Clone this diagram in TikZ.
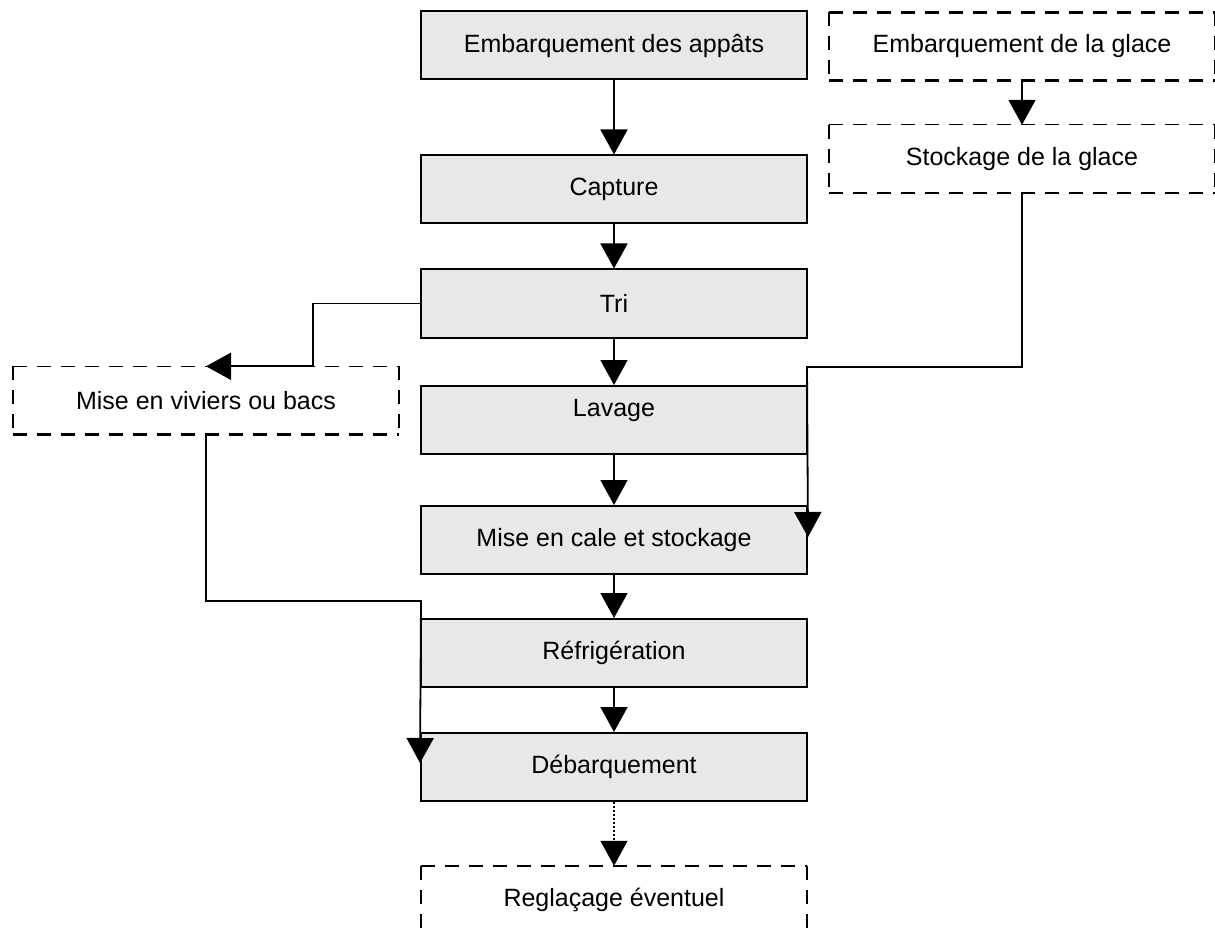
\documentclass[tikz,border=0pt]{standalone}
\usepackage{fontspec}
\setmainfont{Liberation Sans}
\usetikzlibrary{arrows.meta}
\definecolor{boxgrey}{RGB}{232,232,232}
% dashed frame of an optional step: top edge style, then the other three edges
\newcommand{\dashframe}[2]{%
  \draw[#2] (#1.north west) -- (#1.north east);
  \draw[thickdash] (#1.north west) -- (#1.south west);
  \draw[thickdash] (#1.south west) -- (#1.south east);
  \draw[thickdash] (#1.north east) -- (#1.south east);}
\begin{document}
\begin{tikzpicture}[x=1pt,y=-1pt,
  txt/.style={font=\fontsize{25}{30}\selectfont},
  stepbox/.style={txt, draw, line width=2pt, fill=boxgrey,
    minimum width=386pt, minimum height=68pt, inner sep=0pt},
  optbox/.style={txt, minimum width=386pt, minimum height=68pt, inner sep=0pt},
  thickdash/.style={line width=2.5pt, dash pattern=on 14pt off 10pt},
  thindash/.style={line width=1.2pt, dash pattern=on 14pt off 10pt},
  flow/.style={line width=1.8pt, -{Triangle[length=25pt,width=27pt]}},
  dotflow/.style={flow, line width=1.5pt, dash pattern=on 2pt off 2pt},
]
\useasboundingbox (0,0) rectangle (1215,933);

% main process chain
\node[stepbox] (emb)  at (614,45.5)  {Embarquement des appâts};
\node[stepbox] (cap)  at (614,189.5) {Capture};
\node[stepbox] (tri)  at (614,303.5) {Tri};
\node[stepbox, text depth=25pt] (lav) at (614,420) {Lavage};
\node[stepbox] (cale) at (614,540)   {Mise en cale et stockage};
\node[stepbox] (refr) at (614,653)   {Réfrigération};
\node[stepbox] (deb)  at (614,767)   {Débarquement};

% optional steps
\node[optbox] (glace) at (1022,46.5) {Embarquement de la glace};
\node[optbox] (stock) at (1022,159)  {Stockage de la glace};
\node[optbox] (viv)   at (206,400.5) {Mise en viviers ou bacs};
\node[optbox] (regl)  at (614,900)   {Reglaçage éventuel};

\dashframe{glace}{thickdash}
\dashframe{stock}{thindash}
\dashframe{viv}{thindash}
\dashframe{regl}{thickdash}

% bend points of the side branches
\coordinate (triout) at (313,303.5);
\coordinate (icein)  at (807,367);
\coordinate (vivout) at (421,601);

% connectors
\draw[flow] (emb) -- (cap);
\draw[flow] (cap) -- (tri);
\draw[flow] (tri) -- (lav);
\draw[flow] (lav) -- (cale);
\draw[flow] (cale) -- (refr);
\draw[flow] (refr) -- (deb);
\draw[dotflow] (deb) -- (regl);
\draw[flow] (glace) -- (stock);
\draw[flow] (tri.west) -- (triout) |- (viv.north);
\draw[flow] (stock.south) |- (icein) -- ([yshift=3pt]cale.east);
\draw[flow] (viv.south) |- (vivout) -- ([yshift=4pt]deb.west);
\end{tikzpicture}
\end{document}
